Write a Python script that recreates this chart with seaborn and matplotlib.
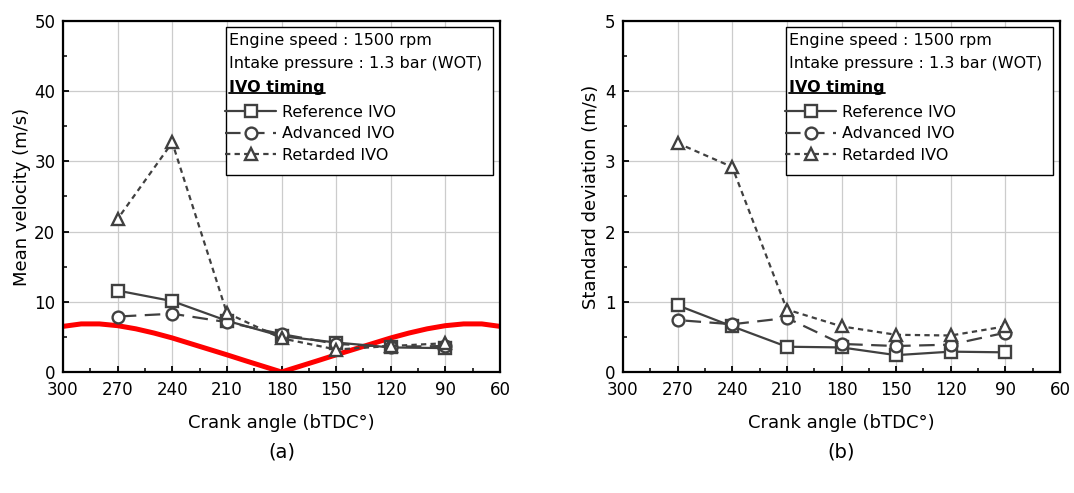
import matplotlib
matplotlib.use("Agg")
import matplotlib.pyplot as plt
import seaborn as sns
from matplotlib.patches import Rectangle
from matplotlib.lines import Line2D
from matplotlib.ticker import MultipleLocator

# ---- data -------------------------------------------------------------
crank_angle = [270, 240, 210, 180, 150, 120, 90]

mean_reference = [11.6, 10.1, 7.3, 5.1, 4.2, 3.5, 3.4]
mean_advanced = [7.9, 8.3, 7.1, 5.4, 4.0, 3.6, 3.7]
mean_retarded = [21.8, 32.7, 8.4, 4.8, 3.2, 3.7, 4.1]

std_reference = [0.95, 0.65, 0.36, 0.35, 0.24, 0.29, 0.28]
std_advanced = [0.74, 0.68, 0.77, 0.40, 0.37, 0.39, 0.56]
std_retarded = [3.26, 2.92, 0.89, 0.65, 0.53, 0.52, 0.65]

# instantaneous piston speed over the intake/compression strokes
piston_angle = [300, 290, 280, 270, 260, 250, 240, 230, 220, 210, 200, 190, 180,
                170, 160, 150, 140, 130, 120, 110, 100, 90, 80, 70, 60]
piston_speed = [6.5, 6.85, 6.85, 6.6, 6.15, 5.55, 4.85, 4.05, 3.25, 2.45, 1.62, 0.81, 0.0,
                0.81, 1.62, 2.45, 3.25, 4.05, 4.85, 5.55, 6.15, 6.6, 6.85, 6.85, 6.5]

series_names = ["Reference IVO", "Advanced IVO", "Retarded IVO"]
info_lines = ["Engine speed : 1500 rpm", "Intake pressure : 1.3 bar (WOT)"]
legend_title = "IVO timing"

# ---- style ------------------------------------------------------------
sns.set_theme(style="white")
plt.rcParams["font.family"] = ["DejaVu Sans"]
plt.rcParams["text.color"] = "black"
plt.rcParams["axes.labelcolor"] = "black"
plt.rcParams["xtick.color"] = "black"
plt.rcParams["ytick.color"] = "black"

GRAY = "#404040"
LINE_STYLES = {
    "Reference IVO": dict(marker="s", linestyle="-"),
    "Advanced IVO": dict(marker="o", linestyle=(0, (7, 3.8))),
    "Retarded IVO": dict(marker="^", linestyle=(0, (2.4, 1.9))),
}

W, H = 1074, 493
fig = plt.figure(figsize=(W / 100, H / 100), dpi=100)
fig.patch.set_facecolor("white")

ax_a = fig.add_axes([63 / W, 121 / H, 437 / W, 351 / H])
ax_b = fig.add_axes([623 / W, 121 / H, 437 / W, 351 / H])


def draw_series(ax, values):
    for name, vals in zip(series_names, values):
        st = LINE_STYLES[name]
        sns.lineplot(x=crank_angle, y=vals, ax=ax, color=GRAY,
                     linewidth=1.6, linestyle=st["linestyle"],
                     marker=st["marker"], markersize=8.5,
                     markerfacecolor="white", markeredgecolor=GRAY,
                     markeredgewidth=1.7, label=name, legend=False, zorder=3)


def style_axes(ax, ymax, ymajor, yminor, ylabel, ylabel_x):
    ax.set_xlim(300, 60)
    ax.set_ylim(0, ymax)
    ax.xaxis.set_major_locator(MultipleLocator(30))
    ax.xaxis.set_minor_locator(MultipleLocator(15))
    ax.yaxis.set_major_locator(MultipleLocator(ymajor))
    ax.yaxis.set_minor_locator(MultipleLocator(yminor))
    ax.grid(True, which="major", color="#cccccc", linewidth=0.9)
    ax.set_axisbelow(True)
    ax.tick_params(which="both", direction="in", top=False, right=False,
                   bottom=True, left=True, colors="black", labelcolor="black",
                   labelsize=12)
    ax.tick_params(axis="x", which="both", pad=6.5)
    ax.tick_params(axis="y", which="both", pad=5.5)
    ax.tick_params(which="major", length=4, width=1.3)
    ax.tick_params(which="minor", length=3, width=1.1)
    for sp in ax.spines.values():
        sp.set_color("black")
        sp.set_linewidth(1.6)
    ax.set_xlabel("Crank angle (bTDC°)", fontsize=13, color="black")
    ax.xaxis.set_label_coords(0.5, -0.145)
    ax.xaxis.label.set_va("center")
    ax.set_ylabel(ylabel, fontsize=13, color="black")
    ax.yaxis.set_label_coords(ylabel_x, 0.5)
    ax.yaxis.label.set_va("center")
    ax.yaxis.label.set_ha("center")


def info_box(ax):
    ax.add_patch(Rectangle((0.373, 0.561), 0.611, 0.422, transform=ax.transAxes,
                           facecolor="white", edgecolor="black", linewidth=1.0,
                           zorder=4))
    for txt, y in zip(info_lines, [0.944, 0.879]):
        ax.text(0.381, y, txt, transform=ax.transAxes, fontsize=11.5,
                color="black", ha="left", va="center", zorder=5)
    title = ax.text(0.381, 0.811, legend_title, transform=ax.transAxes,
                    fontsize=11.5, fontweight="bold", color="black",
                    ha="left", va="center", zorder=5)
    handles = ax.get_lines()[-3:]
    leg = ax.legend(handles=handles, labels=series_names, loc="upper left",
                    bbox_to_anchor=(0.371, 0.762), frameon=False, fontsize=11.5,
                    handlelength=3.2, handletextpad=0.35, labelspacing=0.42,
                    borderpad=0, borderaxespad=0, labelcolor="black")
    leg.set_zorder(6)
    return title


# panel (a): mean velocity with piston speed
sns.lineplot(x=piston_angle, y=piston_speed, ax=ax_a, color="#ff0000",
             linewidth=3.6, sort=False, legend=False, zorder=2)
draw_series(ax_a, [mean_reference, mean_advanced, mean_retarded])
style_axes(ax_a, 50, 10, 5, "Mean velocity (m/s)", -0.093)
title_a = info_box(ax_a)

# panel (b): standard deviation
draw_series(ax_b, [std_reference, std_advanced, std_retarded])
style_axes(ax_b, 5, 1, 0.5, "Standard deviation (m/s)", -0.074)
title_b = info_box(ax_b)

# underline the legend headings
fig.canvas.draw()
for ax, t in [(ax_a, title_a), (ax_b, title_b)]:
    bb = t.get_window_extent().transformed(ax.transAxes.inverted())
    ax.add_line(Line2D([bb.x0, bb.x1], [bb.y0 + 0.006, bb.y0 + 0.006],
                       transform=ax.transAxes, color="black", linewidth=1.3,
                       zorder=6))

for ax, tag in [(ax_a, "(a)"), (ax_b, "(b)")]:
    pos = ax.get_position()
    fig.text((pos.x0 + pos.x1) / 2, 1 - 452 / H, tag, ha="center", va="center",
             fontsize=14, color="black")

fig.savefig("out.png", dpi=100)
